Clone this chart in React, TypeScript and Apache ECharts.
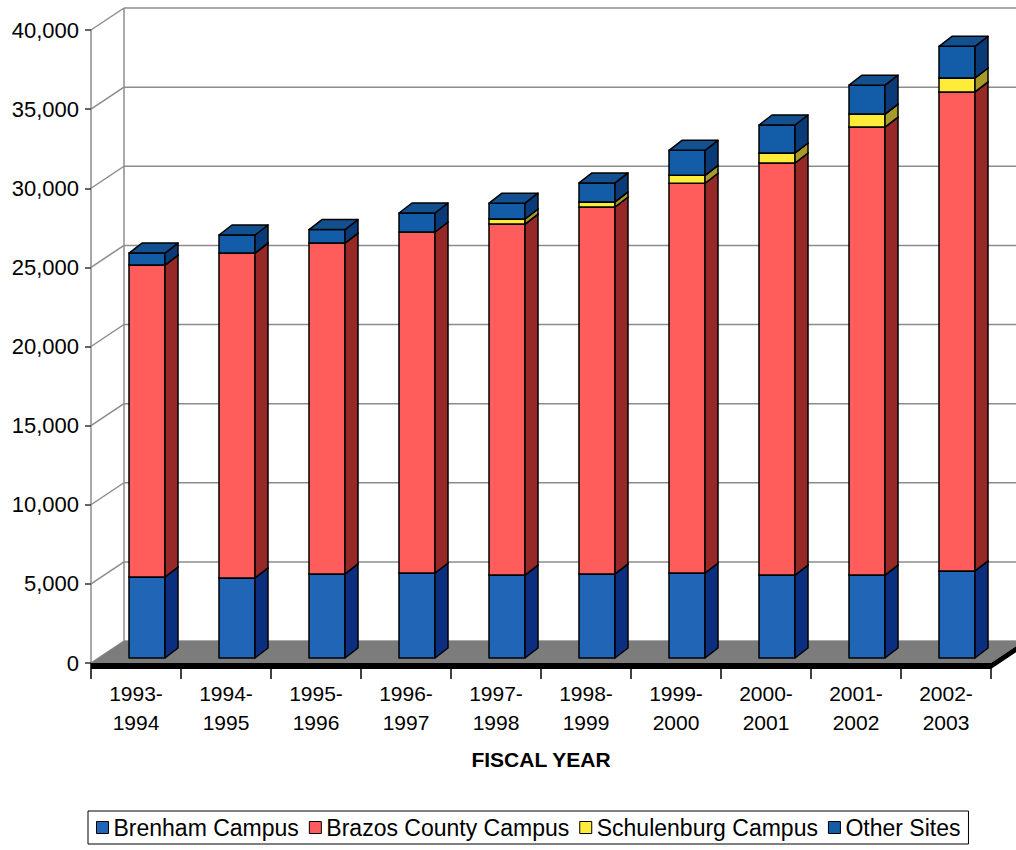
import React, { useEffect, useRef } from 'react';
import * as echarts from 'echarts';

const categories = ['1993-\n1994', '1994-\n1995', '1995-\n1996', '1996-\n1997', '1997-\n1998', '1998-\n1999', '1999-\n2000', '2000-\n2001', '2001-\n2002', '2002-\n2003'];
const brenham = [5120, 5060, 5310, 5370, 5240, 5310, 5370, 5240, 5240, 5500];
const brazos = [19710, 20530, 20910, 21550, 22180, 23190, 24630, 26040, 28310, 30270];
const schulenburg = [0, 0, 0, 0, 320, 320, 500, 630, 820, 880];
const otherSites = [760, 1140, 850, 1200, 1000, 1200, 1580, 1770, 1830, 2000];
const yTicks = [0, 5000, 10000, 15000, 20000, 25000, 30000, 35000, 40000];
const seriesNames = ['Brenham Campus', 'Brazos County Campus', 'Schulenburg Campus', 'Other Sites'];

const FONT = '"Liberation Sans", Arial, sans-serif';
const GRID = '#8c8c8c';
const DDX = 33, DDY = -22; // wall depth
const SX = 11, SY = -5; // bar plane shift
const BDX = 13, BDY = -10; // bar depth
const BAR_W = 36;

const palette = [
  { front: '#2166b6', side: '#0b2f7e', top: '#1a5298' },
  { front: '#ff5c5c', side: '#962828', top: '#c24040' },
  { front: '#ffec3a', side: '#a89a2a', top: '#d4c230' },
  { front: '#125ca8', side: '#0a3a78', top: '#13508f' },
];

export default function App() {
  const ref = useRef<HTMLDivElement>(null);
  useEffect(() => {
    document.body.style.margin = '0';
    const chart = echarts.init(ref.current!, null, { renderer: 'svg' });
    const valueSets = [brenham, brazos, schulenburg, otherSites];
    const bases: number[][] = [];
    let cum = categories.map(() => 0);
    valueSets.forEach((vals) => {
      bases.push(cum.slice());
      cum = cum.map((c, i) => c + vals[i]);
    });

    const barSeries = valueSets.map((vals, si) => ({
      type: 'custom',
      name: seriesNames[si],
      z: 3,
      itemStyle: { color: palette[si].front, borderColor: '#000', borderWidth: 1 },
      data: vals.map((v, i) => [i, bases[si][i], bases[si][i] + v]),
      encode: { x: 0, y: [1, 2] },
      renderItem: (params: any, api: any) => {
        const i = api.value(0);
        const b = api.value(1);
        const t = api.value(2);
        if (t - b <= 0) return null;
        const p0 = api.coord([i, b]);
        const p1 = api.coord([i, t]);
        const cx = p0[0] + SX;
        const x0 = cx - BAR_W / 2, x1 = cx + BAR_W / 2;
        const yb = p0[1] + SY, yt = p1[1] + SY;
        const c = palette[si];
        const st = { stroke: '#000', lineWidth: 1.5, lineJoin: 'round' };
        return {
          type: 'group',
          children: [
            { type: 'polygon', shape: { points: [[x0, yb], [x1, yb], [x1, yt], [x0, yt]] }, style: { ...st, fill: c.front } },
            { type: 'polygon', shape: { points: [[x1, yb], [x1 + BDX, yb + BDY], [x1 + BDX, yt + BDY], [x1, yt]] }, style: { ...st, fill: c.side } },
            { type: 'polygon', shape: { points: [[x0, yt], [x1, yt], [x1 + BDX, yt + BDY], [x0 + BDX, yt + BDY]] }, style: { ...st, fill: c.top } },
          ],
        };
      },
    }));

    const wallSeries = {
      type: 'custom',
      name: 'walls',
      silent: true,
      z: 1,
      data: yTicks.map((v) => [0, v]),
      encode: { x: 0, y: 1 },
      renderItem: (params: any, api: any) => {
        const cs = params.coordSys;
        const y = api.coord([0, api.value(1)])[1];
        const gx = cs.x, gr = cs.x + cs.width;
        const ls = { stroke: GRID, lineWidth: 1.5 };
        const children: any[] = [
          { type: 'line', shape: { x1: gx, y1: y, x2: gx + DDX, y2: y + DDY }, style: ls },
          { type: 'line', shape: { x1: gx + DDX, y1: y + DDY, x2: gr + DDX, y2: y + DDY }, style: ls },
        ];
        if (params.dataIndex === 0) {
          children.push({ type: 'line', shape: { x1: gx + DDX, y1: cs.y + DDY, x2: gx + DDX, y2: cs.y + cs.height + DDY }, style: ls });
        }
        return { type: 'group', children };
      },
    };

    const floorSeries = {
      type: 'custom',
      name: 'floor',
      silent: true,
      z: 2,
      data: [[0, 0]],
      encode: { x: 0, y: 1 },
      renderItem: (params: any, api: any) => {
        const cs = params.coordSys;
        const y = api.coord([0, 0])[1];
        const gx = cs.x, gr = cs.x + cs.width;
        const th = 6;
        return {
          type: 'group',
          children: [
            { type: 'polygon', shape: { points: [[gx, y], [gx + DDX, y + DDY], [gr + DDX, y + DDY], [gr, y]] }, style: { fill: '#7c7c7c' } },
            { type: 'polygon', shape: { points: [[gx, y], [gr, y], [gr + DDX, y + DDY], [gr + DDX, y + DDY + th], [gr, y + th], [gx, y + th]] }, style: { fill: '#000' } },
          ],
        };
      },
    };

    chart.setOption({
      animation: false,
      backgroundColor: '#fff',
      textStyle: { fontFamily: FONT },
      grid: { left: 91, top: 30, width: 900, height: 633, containLabel: false },
      xAxis: {
        type: 'category',
        data: categories,
        axisLine: { show: false },
        axisTick: { show: true, length: 16, lineStyle: { color: '#000', width: 1.5 } },
        axisLabel: { fontSize: 21, lineHeight: 29, color: '#000', margin: 16, fontFamily: FONT },
        splitLine: { show: false },
        name: 'FISCAL YEAR',
        nameLocation: 'middle',
        nameGap: 86,
        nameTextStyle: { fontSize: 21, fontWeight: 'bold', color: '#000', fontFamily: FONT },
      },
      yAxis: {
        type: 'value',
        min: 0,
        max: 40000,
        interval: 5000,
        axisLine: { show: true, lineStyle: { color: GRID, width: 1.5 } },
        axisTick: { show: true, length: 6, lineStyle: { color: '#333', width: 1.5 } },
        axisLabel: {
          fontSize: 22,
          color: '#000',
          margin: 12,
          fontFamily: FONT,
          formatter: (v: number) => v.toLocaleString('en-US'),
        },
        splitLine: { show: false },
      },
      legend: {
        data: seriesNames,
        left: 88,
        top: 811,
        icon: 'rect',
        itemWidth: 12,
        itemHeight: 12,
        itemGap: 10,
        borderColor: '#000',
        borderWidth: 1,
        padding: [5, 8, 5, 8],
        itemStyle: { borderColor: '#000', borderWidth: 1 },
        textStyle: { fontSize: 23, color: '#000', fontFamily: FONT },
      },
      series: [wallSeries, floorSeries, ...barSeries],
    });
    return () => chart.dispose();
  }, []);
  return <div ref={ref} style={{ position: 'absolute', left: 0, top: 0, width: 1016, height: 850 }} />;
}
